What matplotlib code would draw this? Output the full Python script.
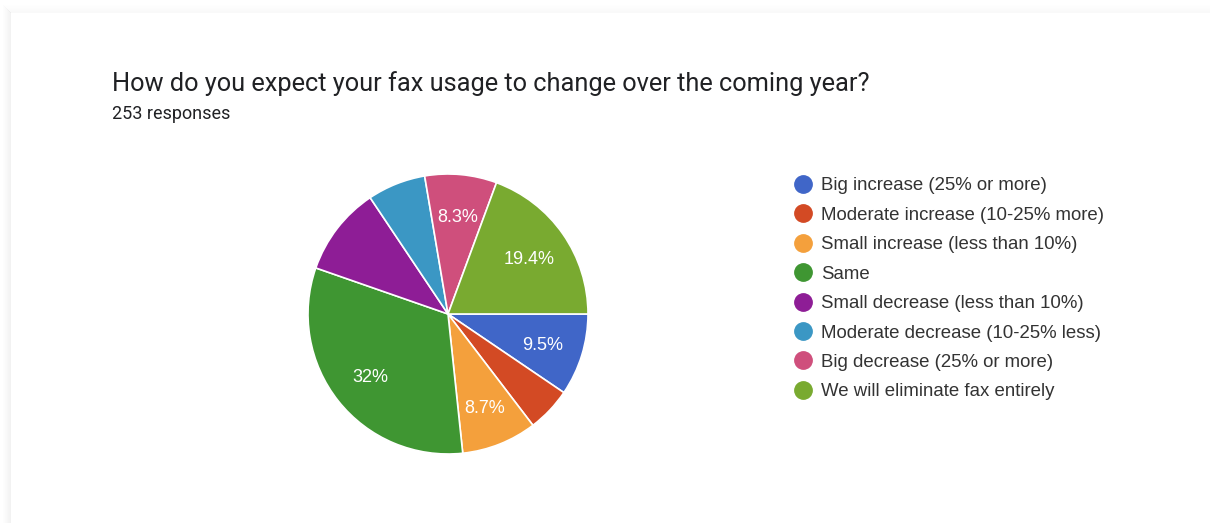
import matplotlib
matplotlib.use("Agg")
import matplotlib.pyplot as plt
import numpy as np
from matplotlib.patches import Rectangle

title = "How do you expect your fax usage to change over the coming year?"
subtitle = "253 responses"
categories = [
    "Big increase (25% or more)",
    "Moderate increase (10-25% more)",
    "Small increase (less than 10%)",
    "Same",
    "Small decrease (less than 10%)",
    "Moderate decrease (10-25% less)",
    "Big decrease (25% or more)",
    "We will eliminate fax entirely",
]
counts = [24, 13, 22, 81, 26, 17, 21, 49]
slice_labels = ["9.5%", "", "8.7%", "32%", "", "", "8.3%", "19.4%"]
colors = ["#4066c8", "#d34a24", "#f4a03c", "#3f9632",
          "#8e1d96", "#3b97c4", "#cf4f7c", "#79aa30"]

W, H = 1210, 523
fig = plt.figure(figsize=(W / 100, H / 100), dpi=100)
fig.patch.set_facecolor("white")

# card shadow (left and top edges)
for k in range(8):
    a = 0.05 * (1 - k / 8)
    fig.patches.append(Rectangle(((10 - k) / W, 0), 1 / W, (H - 12 + k) / H,
                                 transform=fig.transFigure, color="black", alpha=a, lw=0))
    fig.patches.append(Rectangle(((10 - k) / W, (H - 13 + k) / H), (W - 10 + k) / W, 1 / H,
                                 transform=fig.transFigure, color="black", alpha=a * 0.5, lw=0))

fig.text(112 / W, 1 - 84 / H, title, fontsize=18.3, family="Roboto",
         color="#202124", va="center", ha="left")
fig.text(112 / W, 1 - 114 / H, subtitle, fontsize=13, family="Roboto",
         color="#202124", va="center", ha="left")

# pie
cx, cy, r = 448, 314, 140
ax = fig.add_axes([(cx - r) / W, (H - cy - r) / H, 2 * r / W, 2 * r / H])
wedges, _ = ax.pie(counts, colors=colors, startangle=0, counterclock=False,
                   wedgeprops=dict(edgecolor="white", linewidth=1.2))
ax.set_xlim(-1, 1)
ax.set_ylim(-1, 1)
ax.set_aspect("equal")
ax.axis("off")
for w, lab in zip(wedges, slice_labels):
    if not lab:
        continue
    ang = np.deg2rad((w.theta1 + w.theta2) / 2)
    ax.text(0.71 * np.cos(ang), 0.71 * np.sin(ang), lab, color="white",
            fontsize=13, family="Liberation Sans", ha="center", va="center_baseline")

# legend
lx, tx, y0, dy = 803, 821, 184, 29.4
for i, (cat, col) in enumerate(zip(categories, colors)):
    y = y0 + i * dy
    fig.lines.append(plt.Line2D([lx / W], [1 - y / H], marker="o", markersize=12.5,
                                color=col, transform=fig.transFigure))
    fig.text(tx / W, 1 - y / H, cat, fontsize=13.4, family="Liberation Sans",
             color="#333333", va="center_baseline", ha="left")

fig.savefig("out.png", dpi=100, facecolor="white")
